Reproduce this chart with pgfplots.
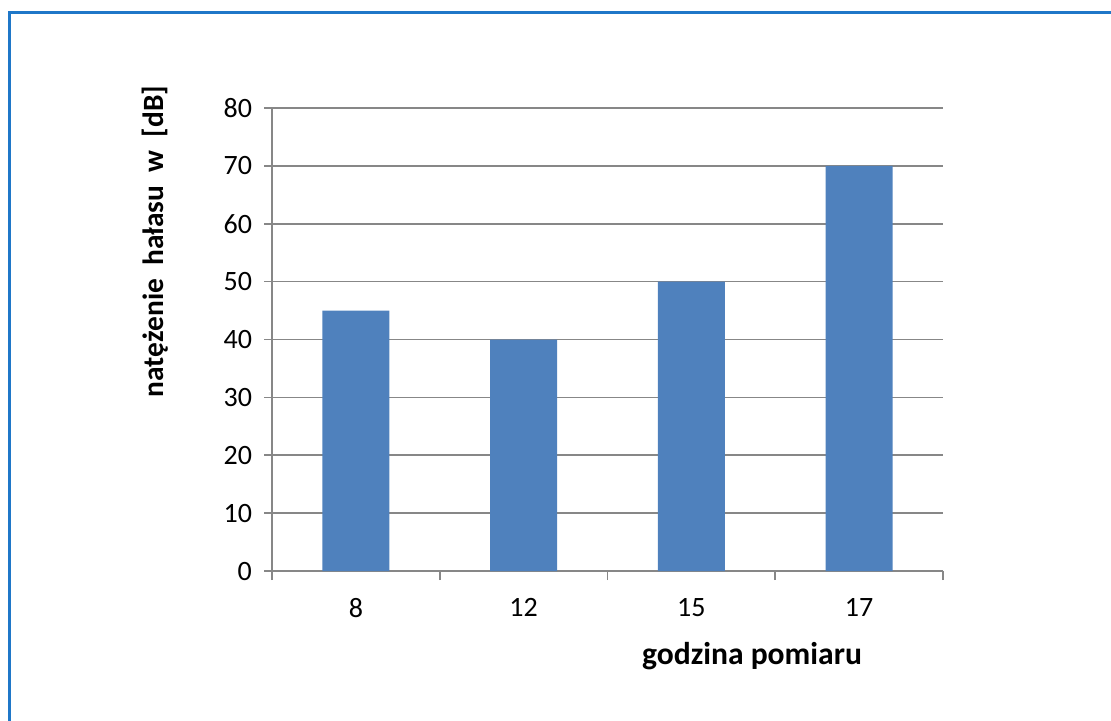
\documentclass[border=0pt]{standalone}
\usepackage{pgfplots}
\pgfplotsset{compat=1.18}
\usepackage{fontspec}
\setmainfont{Carlito}
\definecolor{barblue}{HTML}{4F81BD}
\definecolor{gridgray}{HTML}{878787}
\definecolor{frameblue}{HTML}{1F77C8}
\begin{document}
\begin{tikzpicture}
\useasboundingbox (0,0) rectangle (555.5pt,360pt);
\draw[frameblue, line width=1.5pt] (4.5pt,-5pt) -- (4.5pt,354pt) -- (560pt,354pt);
\begin{axis}[
  at={(136pt,74.5pt)}, anchor=south west,
  scale only axis, width=335.5pt, height=231.5pt,
  xmin=-0.5, xmax=3.5, ymin=0, ymax=80,
  axis x line=bottom, axis y line=left,
  axis line style={gridgray, line width=0.8pt, -},
  xtick={0,1,2,3}, xticklabels={8,12,15,17},
  minor xtick={-0.5,0.5,1.5,2.5,3.5},
  ytick={0,10,...,80},
  ymajorgrids, grid style={gridgray, line width=0.8pt},
  tick align=outside,
  x tick style={draw=none},
  minor x tick style={draw=gridgray, line width=0.8pt},
  y tick style={draw=gridgray, line width=0.8pt},
  major tick length=4pt, minor tick length=4.5pt,
  tick label style={font=\fontsize{14}{16}\selectfont, black},
  /pgf/number format/assume math mode=true,
  xticklabel style={yshift=-6pt},
  yticklabel style={xshift=-2.5pt},
]
\addplot[ybar, bar width=33.5pt, fill=barblue, draw=none] coordinates {(0,45) (1,40) (2,50) (3,70)};
\end{axis}
\node[rotate=90, font=\fontsize{14.7}{17}\selectfont\bfseries] at (77.5pt,239.3pt) {natężenie\ \ hałasu\ \ w\ \ [dB]};
\node[font=\fontsize{15.8}{18}\selectfont\bfseries] at (376pt,32pt) {godzina pomiaru};
\end{tikzpicture}
\end{document}
